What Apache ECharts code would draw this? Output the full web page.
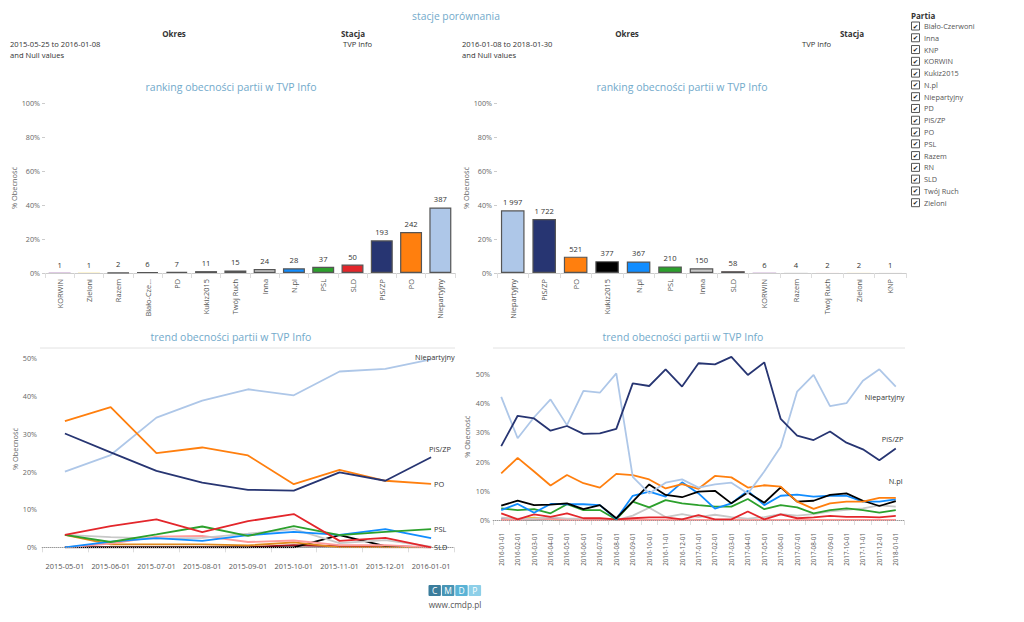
<!DOCTYPE html>
<html><head><meta charset="utf-8">
<script src="https://cdn.jsdelivr.net/npm/echarts@6/dist/echarts.min.js"></script>
<style>html,body{margin:0;padding:0;background:#fff}#c{width:1024px;height:622px}</style>
</head><body><div id="c"></div><script>
// ---------- DATA ----------
const legendParties = ['Biało-Czerwoni','Inna','KNP','KORWIN','Kukiz2015','N.pl','Niepartyjny','PD','PiS/ZP','PO','PSL','Razem','RN','SLD','Twój Ruch','Zieloni'];

const leftRankCats   = ['KORWIN','Zieloni','Razem','Biało-Czerwoni','PD','Kukiz2015','Twój Ruch','Inna','N.pl','PSL','SLD','PiS/ZP','PO','Niepartyjny'];
const leftRankCounts = [1,1,2,6,7,11,15,24,28,37,50,193,242,387];
const rightRankCats   = ['Niepartyjny','PiS/ZP','PO','Kukiz2015','N.pl','PSL','Inna','SLD','KORWIN','Razem','Twój Ruch','Zieloni','KNP'];
const rightRankCounts = [1997,1722,521,377,367,210,150,58,6,4,2,2,1];

const leftMonths  = ['2015-05-01','2015-06-01','2015-07-01','2015-08-01','2015-09-01','2015-10-01','2015-11-01','2015-12-01','2016-01-01'];
const rightMonths = ['2016-01-01','2016-02-01','2016-03-01','2016-04-01','2016-05-01','2016-06-01','2016-07-01','2016-08-01','2016-09-01','2016-10-01','2016-11-01','2016-12-01','2017-01-01','2017-02-01','2017-03-01','2017-04-01','2017-05-01','2017-06-01','2017-07-01','2017-08-01','2017-09-01','2017-10-01','2017-11-01','2017-12-01','2018-01-01'];

// left trend (% obecność)
const L_Niepartyjny = [20.0,24.4,34.3,38.8,41.8,40.2,46.5,47.2,49.7];
const L_PiS         = [30.1,25.1,20.2,17.1,15.2,15.0,19.8,17.6,23.8];
const L_PO          = [33.4,37.1,24.9,26.4,24.3,16.7,20.5,17.6,16.8];
const L_SLD         = [3.3,5.6,7.4,4.0,6.9,8.8,1.7,2.5,0];
const L_PSL         = [3.3,1.4,3.4,5.5,3.0,5.6,3.2,4.1,4.8];
const L_Npl         = [0,1.5,2.4,1.7,3.2,4.1,3.3,4.8,2.4];
const L_Inna        = [3.3,2.7,2.3,2.5,3.6,4.8,1.1,1.9,0.2];
const L_TwojRuch    = [0,1.0,2.8,3.0,1.4,1.8,0.6,0.6,0];
const L_Kukiz       = [0,0,0,0,0,0,3.2,0.3,0];
const L_PD          = [3.3,0.8,0.8,0.8,0.5,1.3,0,0,0];
const L_BialoCz     = [0,0,0,0,0,0.6,0.3,0,0];
const L_Razem       = [0,0,0,0,0,0,0.2,0.3,0];

// right trend (% obecność)
const R_Niepartyjny = [42.2,28.0,35.2,41.3,32.5,44.2,43.6,50.2,14.8,9.1,12.8,13.9,11.1,12.2,12.8,9.1,16.6,25.1,44.0,49.7,39.0,40.0,47.7,51.6,45.7];
const R_PiS         = [25.3,35.7,34.8,30.6,32.2,29.5,29.7,31.2,46.8,45.9,51.6,45.7,53.7,53.3,55.9,49.7,54.0,34.6,28.9,27.4,30.3,26.5,24.2,20.5,24.5];
const R_PO          = [16.0,21.3,16.6,11.8,15.4,12.6,11.1,15.8,15.4,13.9,10.8,12.3,10.7,15.1,14.6,11.1,11.9,11.4,6.3,3.8,5.7,6.3,6.3,7.6,7.6];
const R_Npl         = [3.4,5.5,2.5,5.5,5.4,5.4,5.1,0.3,8.3,9.7,8.0,12.9,9.1,3.9,5.7,10.0,5.1,8.3,8.7,8.0,8.3,8.3,6.3,6.3,7.1];
const R_Kukiz       = [4.9,6.6,5.1,5.3,5.7,3.7,5.1,0.6,6.3,12.2,8.6,7.8,9.7,10.0,5.7,9.4,5.9,11.2,6.3,6.6,8.6,9.1,6.6,4.8,6.5];
const R_PSL         = [4.0,3.4,3.7,2.3,5.4,3.4,3.4,0.2,6.3,4.3,6.8,5.7,5.1,4.6,4.6,7.2,3.7,5.1,4.3,2.3,3.4,4.0,3.4,2.5,3.4];
const R_SLD         = [2.3,0.2,1.9,1.1,2.3,0.6,0.6,0.2,0.6,0.9,0.9,0.2,1.7,0.2,0.2,2.9,0.2,1.9,0.6,0.9,1.4,1.1,1.1,0.9,1.4];
const R_Inna        = [0.8,0.5,0.5,1.0,0.5,0.5,0.5,0,1.5,4.2,1.0,2.0,1.0,1.8,1.0,0.5,1.0,2.0,1.5,2.0,3.0,3.5,4.0,5.0,4.6];
const R_TwojRuch    = [0,0,0.5,0.3,0,0,0,0,0,0,0,0,0,0,0,0,0,0,0,0,0,0,0,0,0];
const R_KORWIN      = [0.3,0,0.3,0.5,0,0,0,0,0,0,0,0,0,0,0,0,0,0,0,0,0,0,0,0,0];
const R_Razem       = [0,0,0,0.3,0,0,0,0,0,0,0,0.2,0,0,0,0,0,0,0,0,0,0,0,0,0];
const R_Zieloni     = [0,0.3,0.8,0.3,0,0,0,0,0,0,0,0,0,0,0,0,0,0,0,0,0,0,0,0,0];

// ---------- STYLE ----------
const partyColors = {
  'Biało-Czerwoni':'#a8121c','Inna':'#c8c8c8','KNP':'#8c564b','KORWIN':'#7b2d8e','Kukiz2015':'#000000',
  'N.pl':'#118dff','Niepartyjny':'#aec7e8','PD':'#e08a1e','PiS/ZP':'#273572','PO':'#ff7f0e','PSL':'#2ca02c',
  'Razem':'#a0a0a0','RN':'#5c4033','SLD':'#e3262b','Twój Ruch':'#ff9a9a','Zieloni':'#f2c200'
};
const FF = '"Segoe UI","Open Sans",sans-serif';
const TITLE_C = '#72aacb';
const fmtN = n => String(n).replace(/\B(?=(\d{3})+(?!\d))/g, ' ');
const pct = v => Math.round(v*100) + '%';

function barSeries(cats, counts, idx){
  const total = counts.reduce((a,b)=>a+b,0);
  const lab = {show:true, position:'top', distance:4, color:'#333', fontSize:7.6, fontFamily:FF,
      textBorderWidth:0, textShadowBlur:0, formatter: p => fmtN(p.data.count)};
  return {
    type:'bar', xAxisIndex:idx, yAxisIndex:idx, barCategoryGap:'25%',
    data: cats.map((c,i)=>{
      const share = counts[i]/total;
      return {value: share, count: counts[i], label: {color:'#333'},
        itemStyle:{color: partyColors[c], borderColor:'#555', borderWidth: share > 0.0015 ? 1.2 : 0}};
    }),
    label: lab
  };
}

function lineS(name, data, idx, z, extra){
  return Object.assign({
    type:'line', name, xAxisIndex:idx, yAxisIndex:idx, symbol:'none', z,
    data: data.map(v=>v/100), silent:true,
    lineStyle:{width: 1.8, color: partyColors[name]}, itemStyle:{color: partyColors[name]}
  }, extra||{});
}
function endLab(dx, dy){
  return {endLabel:{show:true, formatter:'{a}', color:'#333', fontSize:7.4, fontFamily:FF, offset:[dx,dy], distance:3,
    textBorderWidth:0}};
}
const zeroLine = {markLine:{silent:true, symbol:['none','none'], label:{show:false},
  lineStyle:{type:'dotted', color:'#999', width:1}, data:[{yAxis:0}]}};

const catAxisBase = {
  type:'category', axisLine:{lineStyle:{color:'#ccc'}},
  axisTick:{show:true, interval:0, length:5, lineStyle:{color:'#ddd'}},
};
const valAxisBase = {
  type:'value', min:0, splitLine:{show:false}, axisLine:{show:false},
  axisLabel:{color:'#666', fontSize:7.2, fontFamily:FF, formatter:pct, margin:5},
  name:'% Obecność', nameLocation:'middle', nameRotate:90,
  nameTextStyle:{color:'#666', fontSize:7.4, fontFamily:FF}
};
const rotLabel = {rotate:90, interval:0, color:'#555', fontSize:7.4, fontFamily:FF, width:41, overflow:'truncate', ellipsis:'...', margin:6};

const option = {
  animation:false,
  textStyle:{fontFamily:FF},
  grid:[
    {left:45, top:103, width:410, height:170},
    {left:497, top:103, width:409, height:170},
    {left:42, top:350.7, width:412, height:196.6},
    {left:493, top:353.6, width:411, height:166.4}
  ],
  xAxis:[
    Object.assign({}, catAxisBase, {gridIndex:0, data:leftRankCats, axisLabel:rotLabel}),
    Object.assign({}, catAxisBase, {gridIndex:1, data:rightRankCats, axisLabel:rotLabel}),
    Object.assign({}, catAxisBase, {gridIndex:2, data:leftMonths, offset:11, boundaryGap:true,
      axisLabel:{interval:0, color:'#555', fontSize:7.4, fontFamily:FF, margin:4}}),
    Object.assign({}, catAxisBase, {gridIndex:3, data:rightMonths, offset:9, boundaryGap:true,
      axisLabel:{rotate:90, interval:0, color:'#555', fontSize:6.3, fontFamily:FF, margin:4}})
  ],
  yAxis:[
    Object.assign({}, valAxisBase, {gridIndex:0, max:1, interval:0.2, nameGap:27,
      axisTick:{show:true, length:3, lineStyle:{color:'#ccc'}}}),
    Object.assign({}, valAxisBase, {gridIndex:1, max:1, interval:0.2, nameGap:27,
      axisTick:{show:true, length:3, lineStyle:{color:'#ccc'}}}),
    Object.assign({}, valAxisBase, {gridIndex:2, max:0.52, interval:0.1, nameGap:24, axisTick:{show:false},
      axisLabel:Object.assign({}, valAxisBase.axisLabel, {showMaxLabel:false})}),
    Object.assign({}, valAxisBase, {gridIndex:3, max:0.57, interval:0.1, nameGap:23, axisTick:{show:false},
      axisLabel:Object.assign({}, valAxisBase.axisLabel, {showMaxLabel:false, margin:3})})
  ],
  series:[
    barSeries(leftRankCats, leftRankCounts, 0),
    barSeries(rightRankCats, rightRankCounts, 1),
    // left trend
    lineS('Razem', L_Razem, 2, 2, zeroLine),
    lineS('Biało-Czerwoni', L_BialoCz, 2, 2),
    lineS('Kukiz2015', L_Kukiz, 2, 3),
    lineS('PD', L_PD, 2, 3),
    lineS('Twój Ruch', L_TwojRuch, 2, 3),
    lineS('Inna', L_Inna, 2, 3),
    lineS('N.pl', L_Npl, 2, 4),
    lineS('PSL', L_PSL, 2, 5, endLab(0, 0)),
    lineS('SLD', L_SLD, 2, 5, endLab(0, 0)),
    lineS('Niepartyjny', L_Niepartyjny, 2, 6, endLab(-19, -2)),
    lineS('PO', L_PO, 2, 7, endLab(0, 0)),
    lineS('PiS/ZP', L_PiS, 2, 8, endLab(-5, -8)),
    // right trend
    lineS('Zieloni', R_Zieloni, 3, 2, zeroLine),
    lineS('KORWIN', R_KORWIN, 3, 2),
    lineS('Razem', R_Razem, 3, 2),
    lineS('Twój Ruch', R_TwojRuch, 3, 2),
    lineS('Inna', R_Inna, 3, 3),
    lineS('SLD', R_SLD, 3, 4),
    lineS('PSL', R_PSL, 3, 4),
    lineS('N.pl', R_Npl, 3, 5, endLab(-10, -18)),
    lineS('Kukiz2015', R_Kukiz, 3, 5),
    lineS('PO', R_PO, 3, 6),
    lineS('Niepartyjny', R_Niepartyjny, 3, 6, endLab(-34, 10)),
    lineS('PiS/ZP', R_PiS, 3, 7, endLab(-17, -9))
  ],
  graphic: []
};

// ---------- TEXT / DECOR ----------
const G = option.graphic;
function txt(x, y, text, o){
  o = o || {};
  G.push({type:'text', x, y, silent:true, style:{text, fill:o.fill||'#333', fontSize:o.size||7.6,
    fontWeight:o.bold?'bold':'normal', fontFamily:o.ff||FF, textAlign:o.align||'left', textVerticalAlign:'middle'}});
}
txt(456, 16, 'stacje porównania', {fill:TITLE_C, size:10.3, align:'center'});
// header left
txt(174, 33, 'Okres', {bold:true, size:8, align:'center'});
txt(353, 33, 'Stacja', {bold:true, size:8, align:'center'});
txt(10, 44, '2015-05-25 to 2016-01-08');
txt(10, 55, 'and Null values');
txt(343, 44, 'TVP Info');
// header right
txt(627, 33, 'Okres', {bold:true, size:8, align:'center'});
txt(852, 33, 'Stacja', {bold:true, size:8, align:'center'});
txt(462, 44, '2016-01-08 to 2018-01-30');
txt(462, 55, 'and Null values');
txt(802, 44, 'TVP Info');
// chart titles
txt(231, 87, 'ranking obecności partii w TVP Info', {fill:TITLE_C, size:10.5, align:'center'});
txt(682, 87, 'ranking obecności partii w TVP Info', {fill:TITLE_C, size:10.5, align:'center'});
txt(231, 337, 'trend obecności partii w TVP Info', {fill:TITLE_C, size:10.5, align:'center'});
txt(683, 337, 'trend obecności partii w TVP Info', {fill:TITLE_C, size:10.5, align:'center'});
G.push({type:'line', silent:true, shape:{x1:40, y1:348, x2:455, y2:348}, style:{stroke:'#e2e2e2', lineWidth:1}});
G.push({type:'line', silent:true, shape:{x1:493, y1:348, x2:905, y2:348}, style:{stroke:'#e2e2e2', lineWidth:1}});
// legend (slicer)
txt(911, 15, 'Partia', {bold:true, size:8});
legendParties.forEach((p, k) => {
  const cy = 26 + k*11.78;
  G.push({type:'rect', silent:true, shape:{x:911.5, y:cy-4, width:8, height:8}, style:{fill:'#fff', stroke:'#555', lineWidth:1}});
  txt(915.5, cy+0.5, '✔', {size:6.5, align:'center', ff:'"DejaVu Sans",sans-serif', fill:'#222'});
  txt(924, cy, p, {size:7.3, fill:'#555'});
});
// footer logo
const logoLetters = ['C','M','D','P'];
const logoColors = ['#3b7d9c','#4895b5','#5ab3d6','#8dcfe8'];
logoLetters.forEach((l, k) => {
  const x = 428.5 + k*13.4;
  G.push({type:'rect', silent:true, shape:{x, y:585, width:12.4, height:11, r:1}, style:{fill:logoColors[k]}});
  txt(x+6.2, 590.8, l, {size:8.5, fill:'#fff', align:'center'});
});
txt(455, 604, 'www.cmdp.pl', {size:8.3, fill:'#555', align:'center'});

const chart = echarts.init(document.getElementById('c'), null, {renderer:'svg'});
chart.setOption(option);
</script></body></html>
